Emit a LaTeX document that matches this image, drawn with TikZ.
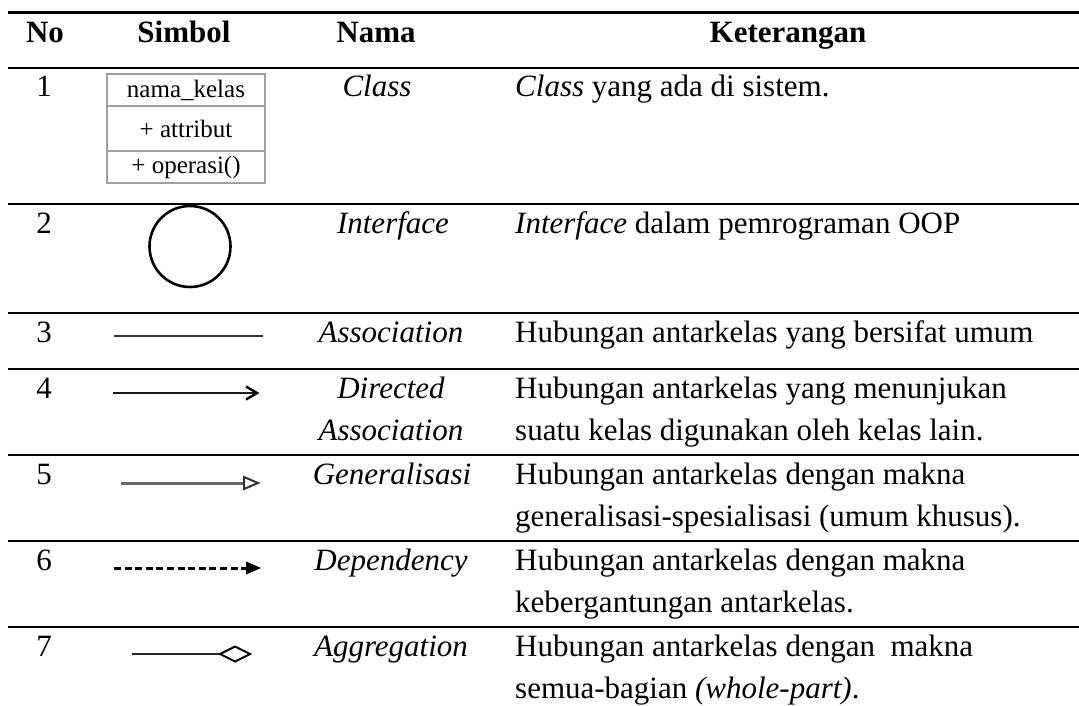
\documentclass[tikz,border=0pt]{standalone}
\usepackage{fontspec}
\setmainfont{Liberation Serif}
\tikzset{
  tablerule/.style={line width=2.2pt, black},
  celltxt/.style={inner sep=0pt, font=\fontsize{31}{42}\selectfont},
  headtxt/.style={celltxt, anchor=base, font=\fontsize{31}{42}\selectfont\bfseries},
  numtxt/.style={celltxt, anchor=base},
  nametxt/.style={celltxt, anchor=base, font=\fontsize{31}{42}\selectfont\itshape},
  desctxt/.style={celltxt, anchor=base west},
  imgbg/.style={fill=white, draw=none},
  classbox/.style={draw=gray!75, line width=1.4pt, fill=white},
  classtxt/.style={inner sep=0pt, anchor=center, font=\fontsize{25}{28}\selectfont},
  symline/.style={line width=2.2pt, line cap=butt}
}
\begin{document}
\begin{tikzpicture}[x=1pt,y=-1pt]
% page frame
\useasboundingbox (0,0) rectangle (1079,706);

% horizontal rules of the table
\draw[tablerule, line width=2.6pt] (8,12.7) -- (1079,12.7);
\foreach \y in {68,204,313,369,455,541,627}
  \draw[tablerule] (8,\y) -- (1079,\y);

% white backgrounds of the pasted symbols, slightly overlapping the rules
\fill[imgbg] (106,68.6) rectangle (263,186);
\fill[imgbg] (143,204.6) rectangle (237,300);
\fill[imgbg] (110,455.6) rectangle (268,520);
\fill[imgbg] (115,541.6) rectangle (267,600);

% header
\node[headtxt] (hNo)  at (45,43)  {No};
\node[headtxt] (hSym) at (184,43) {Simbol};
\node[headtxt] (hNam) at (376,43) {Nama};
\node[headtxt] (hKet) at (788,43) {Keterangan};

% row numbers
\node[numtxt] (n1) at (44,97)  {1};
\node[numtxt] (n2) at (44,233) {2};
\node[numtxt] (n3) at (44,342) {3};
\node[numtxt] (n4) at (44,398) {4};
\node[numtxt] (n5) at (44,484) {5};
\node[numtxt] (n6) at (44,570) {6};
\node[numtxt] (n7) at (44,656) {7};

% names
\node[nametxt] (m1)  at (377,97)    {Class};
\node[nametxt] (m2)  at (393,233)   {Interface};
\node[nametxt] (m3)  at (391,342)   {Association};
\node[nametxt] (m4a) at (391,398)   {Directed};
\node[nametxt] (m4b) at (391,440.5) {Association};
\node[nametxt] (m5)  at (392,484)   {Generalisasi};
\node[nametxt] (m6)  at (391,570)   {Dependency};
\node[nametxt] (m7)  at (391,656)   {Aggregation};

% descriptions
\node[desctxt] (d1)  at (515,97)    {\textit{Class} yang ada di sistem.};
\node[desctxt] (d2)  at (515,233)   {\textit{Interface} dalam pemrograman OOP};
\node[desctxt] (d3)  at (515,342)   {Hubungan antarkelas yang bersifat umum};
\node[desctxt] (d4a) at (515,398)   {Hubungan antarkelas yang menunjukan};
\node[desctxt] (d4b) at (515,440.5) {suatu kelas digunakan oleh kelas lain.};
\node[desctxt] (d5a) at (515,484)   {Hubungan antarkelas dengan makna};
\node[desctxt] (d5b) at (515,526.5) {generalisasi-spesialisasi (umum khusus).};
\node[desctxt] (d6a) at (515,570)   {Hubungan antarkelas dengan makna};
\node[desctxt] (d6b) at (515,612.5) {kebergantungan antarkelas.};
\node[desctxt] (d7a) at (515,656)   {Hubungan antarkelas dengan\ \ makna};
\node[desctxt] (d7b) at (515,698)   {semua-bagian \textit{(whole-part)}.};

% 1: class symbol
\draw[classbox] (107,74) rectangle (265,183);
\draw[draw=gray!75, line width=1.4pt] (107,106) -- (265,106);
\draw[draw=gray!75, line width=1.4pt] (107,151) -- (265,151);
\node[classtxt] (c1) at (186,90)    {nama\_kelas};
\node[classtxt] (c2) at (186,128.5) {+ attribut};
\node[classtxt] (c3) at (186,167)   {+ operasi()};

% 2: interface circle
\draw[line width=2.6pt] (190,246.5) circle (40.5);

% 3: association
\coordinate (a3s) at (114,336);
\coordinate (a3e) at (263,336);
\draw[symline, black!80] (a3s) -- (a3e);

% 4: directed association
\coordinate (a4s) at (113,393);
\coordinate (a4e) at (257,393);
\draw[symline, black!90] (a4s) -- (a4e);
\draw[line width=2.4pt, line join=miter] (246,386.5) -- (a4e) -- (246,399.5);

% 5: generalisation
\coordinate (a5s) at (121,483);
\coordinate (a5e) at (244,483);
\draw[line width=3pt, black!60] (a5s) -- (a5e);
\draw[line width=2pt, black!80, fill=white, line join=miter] (244,477) -- (258,483) -- (244,489) -- cycle;

% 6: dependency
\coordinate (a6s) at (114,568);
\coordinate (a6e) at (248,568);
\draw[line width=3pt, dash pattern=on 7pt off 3.6pt] (a6s) -- (a6e);
\fill (246,561.5) -- (261,568) -- (246,574.5) -- cycle;

% 7: aggregation
\coordinate (a7s) at (132,654);
\coordinate (a7e) at (220,654);
\draw[line width=2.2pt, black!85] (a7s) -- (a7e);
\draw[line width=2pt, fill=white, line join=miter] (a7e) -- (235,646.5) -- (250,654) -- (235,661.5) -- cycle;
\end{tikzpicture}
\end{document}
